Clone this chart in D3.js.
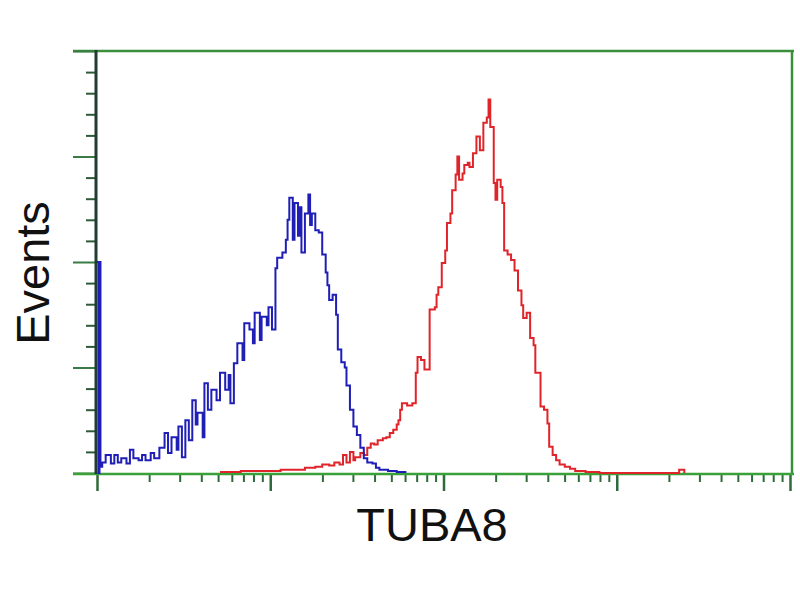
<!DOCTYPE html>
<html>
<head>
<meta charset="utf-8">
<script src="https://cdn.jsdelivr.net/npm/d3@7"></script>
<style>
  body { margin: 0; background: #fff; }
  svg { display: block; }
</style>
</head>
<body>
<svg></svg>
<script>
// log10 of intensity (decades) and counts per channel
let blueLog = [0, 0.01, 0.02, 0.03, 0.05, 0.08, 0.10, 0.12, 0.14, 0.17, 0.19, 0.21, 0.24, 0.26, 0.28, 0.31, 0.33, 0.36, 0.39, 0.41, 0.43, 0.46, 0.47, 0.49, 0.51, 0.53, 0.55, 0.57, 0.58, 0.61, 0.62, 0.64, 0.66, 0.69, 0.71, 0.74, 0.76, 0.77, 0.79, 0.81, 0.84, 0.85, 0.88, 0.90, 0.91, 0.94, 0.95, 0.98, 0.99, 1.01, 1.03, 1.04, 1.07, 1.09, 1.10, 1.11, 1.13, 1.14, 1.16, 1.17, 1.18, 1.20, 1.22, 1.23, 1.24, 1.26, 1.28, 1.30, 1.32, 1.33, 1.34, 1.36, 1.38, 1.39, 1.41, 1.43, 1.44, 1.46, 1.48, 1.50, 1.52, 1.54, 1.56, 1.59, 1.61, 1.63, 1.68, 1.73, 1.78]
let blueCount = [200, 200, 6, 10, 17, 9, 17, 10, 14, 9, 22, 14, 12, 17, 12, 19, 14, 24, 38, 19, 34, 22, 44, 15, 50, 31, 69, 46, 57, 34, 85, 60, 79, 69, 95, 79, 93, 66, 104, 123, 107, 142, 136, 123, 152, 126, 148, 140, 157, 136, 194, 204, 209, 221, 240, 261, 221, 256, 225, 252, 209, 246, 264, 235, 246, 230, 228, 207, 190, 178, 164, 169, 150, 117, 105, 100, 83, 60, 44, 36, 24, 14, 10, 9, 5, 3, 2, 1, 0]

let redLog = [0.71, 0.83, 0.94, 1.06, 1.14, 1.20, 1.26, 1.30, 1.34, 1.37, 1.40, 1.42, 1.44, 1.46, 1.48, 1.49, 1.52, 1.54, 1.56, 1.58, 1.60, 1.62, 1.65, 1.67, 1.69, 1.71, 1.73, 1.74, 1.75, 1.76, 1.79, 1.81, 1.82, 1.84, 1.85, 1.87, 1.89, 1.90, 1.92, 1.95, 1.96, 1.97, 1.99, 2.01, 2.02, 2.04, 2.05, 2.07, 2.08, 2.09, 2.11, 2.12, 2.14, 2.15, 2.17, 2.19, 2.21, 2.23, 2.25, 2.26, 2.27, 2.29, 2.30, 2.31, 2.33, 2.34, 2.35, 2.37, 2.39, 2.41, 2.43, 2.45, 2.46, 2.48, 2.50, 2.52, 2.53, 2.56, 2.58, 2.60, 2.61, 2.63, 2.65, 2.67, 2.70, 2.73, 2.76, 2.82, 2.90, 3.36, 3.39]
let redCount = [1, 2, 2, 3, 3, 5, 6, 8, 7, 10, 8, 17, 10, 20, 12, 15, 19, 17, 24, 28, 27, 31, 33, 34, 38, 41, 46, 50, 60, 66, 64, 64, 66, 95, 110, 107, 98, 98, 155, 157, 169, 176, 199, 211, 237, 246, 268, 283, 300, 278, 284, 292, 294, 290, 303, 319, 306, 332, 337, 354, 328, 275, 259, 278, 271, 256, 211, 207, 202, 192, 173, 159, 147, 152, 128, 121, 95, 63, 60, 47, 25, 17, 12, 8, 6, 4, 2, 1, 0, 3, 0]

let xLabel = 'TUBA8'
let yLabel = 'Events'
let yMax = 400
let decades = [1, 10, 100, 1000, 10000]

let width = 800
let height = 600
let plotLeft = 96
let plotRight = 792
let plotTop = 51
let plotBottom = 474

let svg = d3.select('svg').attr('width', width).attr('height', height)

let xScale = d3.scaleLog().domain([1, 10000]).range([plotLeft + 1, plotRight - 2])
let yScale = d3.scaleLinear().domain([0, yMax]).range([plotBottom - 1, plotTop])

let frameColor = '#3a8f3a'
let axisDark = '#1f3d33'

// minor log ticks
let minorX = []
decades.slice(0, -1).forEach((d) => {
  for (let k = 2; k < 10; k++) minorX.push(d * k)
})

let drawFrame = () => {
  svg.append('line')
    .attr('x1', 73).attr('x2', plotRight + 2)
    .attr('y1', plotTop).attr('y2', plotTop)
    .attr('stroke', frameColor).attr('stroke-width', 2.5)
  svg.append('line')
    .attr('x1', plotRight).attr('x2', plotRight)
    .attr('y1', plotTop).attr('y2', plotBottom)
    .attr('stroke', frameColor).attr('stroke-width', 2.5)
}

let drawAxes = () => {
  let yMajor = d3.axisLeft(yScale).tickValues(d3.range(0, yMax + 1, 100)).tickSize(23).tickFormat('')
  let yMinor = d3.axisLeft(yScale).tickValues(d3.range(20, yMax, 20).filter((v) => v % 100 !== 0)).tickSize(10).tickFormat('')

  let gMinor = svg.append('g').attr('transform', 'translate(' + plotLeft + ',0)').call(yMinor)
  gMinor.select('.domain').remove()
  gMinor.selectAll('line').attr('stroke', '#2f5a3a').attr('stroke-width', 2)

  let gMajor = svg.append('g').attr('transform', 'translate(' + plotLeft + ',0)').call(yMajor)
  gMajor.select('.domain').remove()
  gMajor.selectAll('line').attr('stroke', '#3a7a45').attr('stroke-width', 2)

  let xMajor = d3.axisBottom(xScale).tickValues(decades).tickSize(17).tickFormat('')
  let xMinor = d3.axisBottom(xScale).tickValues(minorX).tickSize(8).tickFormat('')

  let gx2 = svg.append('g').attr('transform', 'translate(0,' + plotBottom + ')').call(xMinor)
  gx2.select('.domain').remove()
  gx2.selectAll('line').attr('stroke', '#2f6a3a').attr('stroke-width', 2)

  let gx = svg.append('g').attr('transform', 'translate(0,' + plotBottom + ')').call(xMajor)
  gx.select('.domain').remove()
  gx.selectAll('line').attr('stroke', '#2f6a3a').attr('stroke-width', 2.5)

  // x axis baseline
  svg.append('line')
    .attr('x1', 73).attr('x2', plotRight + 2)
    .attr('y1', plotBottom).attr('y2', plotBottom)
    .attr('stroke', '#3aa03a').attr('stroke-width', 2.5)

  // y axis line
  svg.append('line')
    .attr('x1', plotLeft).attr('x2', plotLeft)
    .attr('y1', plotTop - 1).attr('y2', plotBottom)
    .attr('stroke', axisDark).attr('stroke-width', 3)
}

let drawHist = (logs, counts, color) => {
  let pts = logs.map((d, i) => [Math.pow(10, d), counts[i]])
  let line = d3.line()
    .x((p) => xScale(p[0]))
    .y((p) => yScale(p[1]))
    .curve(d3.curveStepAfter)
  svg.append('path')
    .datum(pts)
    .attr('d', line)
    .attr('fill', 'none')
    .attr('stroke', color)
    .attr('stroke-width', 2)
    .attr('stroke-linejoin', 'miter')
}

let drawLabels = () => {
  svg.append('text')
    .attr('x', 432).attr('y', 541)
    .attr('text-anchor', 'middle')
    .attr('font-family', 'Liberation Sans, Arial, sans-serif')
    .attr('font-size', 47)
    .attr('fill', '#111')
    .text(xLabel)
  svg.append('text')
    .attr('transform', 'translate(49,273) rotate(-90)')
    .attr('text-anchor', 'middle')
    .attr('font-family', 'Liberation Sans, Arial, sans-serif')
    .attr('font-size', 47)
    .attr('fill', '#111')
    .text(yLabel)
}

drawFrame()
drawAxes()
drawHist(redLog, redCount, '#e0252a')
drawHist(blueLog, blueCount, '#1f1fb8')
// first channel spike drawn thicker along the axis
svg.append('line')
  .attr('x1', xScale(1) + 2).attr('x2', xScale(1) + 2)
  .attr('y1', yScale(blueCount[0])).attr('y2', plotBottom)
  .attr('stroke', '#1f1fb8').attr('stroke-width', 3)
drawLabels()
</script>
</body>
</html>
